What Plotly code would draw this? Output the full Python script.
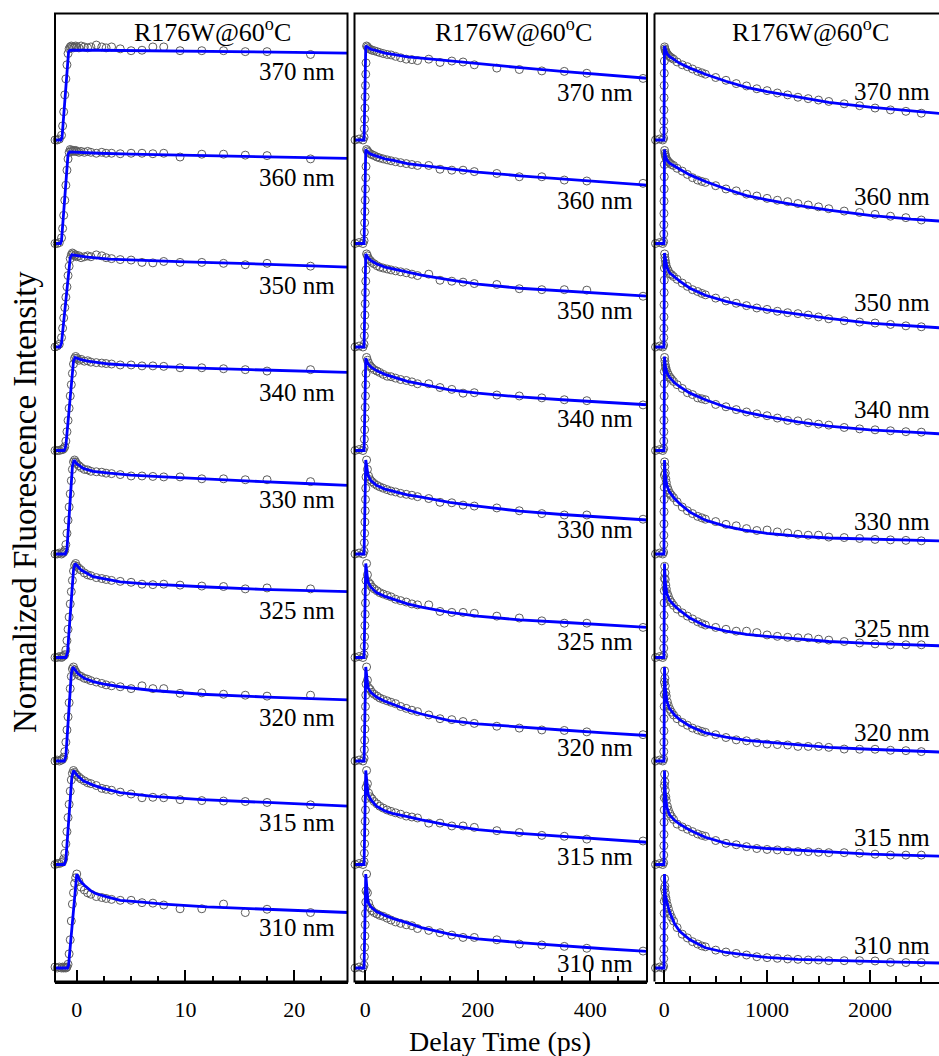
import plotly.graph_objects as go

# ---------------------------------------------------------------- data
WAVELENGTHS = ["370", "360", "350", "340", "330", "325", "320", "315", "310"]
TITLE = "R176W@60<sup>o</sup>C"

# Window 1: -2 .. 25 ps (rows in WAVELENGTHS order)
P1_T = [-2.0, -1.8, -1.6, -1.4, -1.3, -1.2, -1.1, -1.0, -0.9, -0.8, -0.7, -0.6, -0.5,
        -0.4, -0.3, -0.2, -0.1, 0.0, 0.2, 0.4, 0.7, 1.0, 1.3, 1.8, 2.3, 2.7, 3.2, 4.0,
        5.0, 6.0, 7.0, 8.0, 9.5, 11.5, 13.5, 15.5, 17.5, 21.5]
P1_Y = [
    [0.0, 0.0, 0.01, 0.05, 0.15, 0.30, 0.48, 0.65, 0.80, 0.92, 0.97, 0.99, 1.00, 0.99, 0.98, 0.99, 1.00,
     0.99, 0.98, 1.00, 0.99, 0.98, 0.99, 1.01, 0.99, 0.98, 0.99, 0.97, 0.95, 0.955, 0.99, 0.99,
     0.95, 0.95, 0.95, 0.94, 0.94, 0.91],
    [0.0, 0.0, 0.01, 0.06, 0.16, 0.30, 0.46, 0.62, 0.78, 0.90, 0.97, 1.00, 0.99, 0.98, 0.99, 0.98, 0.99,
     0.98, 0.97, 0.98, 0.97, 0.98, 0.97, 0.96, 0.97, 0.96, 0.96, 0.955, 0.96, 0.96, 0.955, 0.96,
     0.92, 0.95, 0.95, 0.94, 0.935, 0.90],
    [0.0, 0.01, 0.03, 0.10, 0.20, 0.31, 0.42, 0.53, 0.64, 0.76, 0.86, 0.94, 0.98, 1.00, 0.99, 0.97, 0.98,
     0.96, 0.97, 0.95, 0.96, 0.97, 0.96, 0.98, 0.97, 0.95, 0.94, 0.93, 0.925, 0.90, 0.895, 0.91,
     0.90, 0.90, 0.89, 0.875, 0.89, 0.86],
    [0.0, 0.0, 0.0, 0.01, 0.01, 0.02, 0.04, 0.10, 0.20, 0.32, 0.45, 0.58, 0.70, 0.82, 0.92, 0.98, 1.00,
     0.98, 0.96, 0.97, 0.95, 0.955, 0.94, 0.935, 0.93, 0.925, 0.92, 0.91, 0.91, 0.90, 0.90, 0.895,
     0.88, 0.88, 0.87, 0.86, 0.845, 0.86],
    [0.0, 0.0, 0.01, 0.0, 0.01, 0.02, 0.04, 0.10, 0.22, 0.36, 0.50, 0.64, 0.78, 0.90, 0.98, 1.00, 0.98,
     0.96, 0.94, 0.92, 0.90, 0.895, 0.88, 0.875, 0.87, 0.86, 0.855, 0.845, 0.83, 0.83, 0.825, 0.82,
     0.82, 0.80, 0.80, 0.79, 0.79, 0.77],
    [0.0, 0.0, 0.01, 0.0, 0.01, 0.02, 0.03, 0.08, 0.18, 0.30, 0.43, 0.57, 0.70, 0.82, 0.92, 0.98, 1.00,
     0.97, 0.95, 0.93, 0.90, 0.88, 0.87, 0.85, 0.84, 0.83, 0.82, 0.81, 0.80, 0.78, 0.775, 0.78,
     0.77, 0.76, 0.755, 0.73, 0.74, 0.73],
    [0.0, 0.01, 0.0, 0.01, 0.02, 0.04, 0.10, 0.20, 0.33, 0.47, 0.62, 0.77, 0.90, 0.98, 1.00, 0.97, 0.95,
     0.93, 0.91, 0.90, 0.88, 0.87, 0.855, 0.84, 0.825, 0.81, 0.80, 0.79, 0.77, 0.80, 0.77, 0.77,
     0.72, 0.725, 0.71, 0.70, 0.69, 0.70],
    [0.0, 0.01, 0.01, 0.02, 0.03, 0.06, 0.12, 0.22, 0.35, 0.50, 0.64, 0.78, 0.90, 0.97, 1.00, 0.98, 0.96,
     0.95, 0.93, 0.91, 0.89, 0.87, 0.86, 0.84, 0.81, 0.80, 0.79, 0.77, 0.75, 0.71, 0.715, 0.71,
     0.69, 0.68, 0.675, 0.67, 0.66, 0.635],
    [0.01, 0.0, 0.01, 0.0, 0.01, 0.0, 0.01, 0.0, 0.01, 0.04, 0.15, 0.30, 0.50, 0.68, 0.80, 0.90, 0.96,
     1.00, 0.92, 0.86, 0.83, 0.80, 0.785, 0.76, 0.75, 0.74, 0.73, 0.72, 0.72, 0.695, 0.69, 0.67,
     0.63, 0.63, 0.68, 0.59, 0.625, 0.59],
]
P1_FIT_T = [
    [-2.0, -1.45, -1.35, -0.75, -0.6, 0.0, 2, 5, 10, 15, 20, 25],
    [-2.0, -1.5, -1.4, -0.8, -0.65, 0.0, 2, 5, 10, 15, 20, 25],
    [-2.0, -1.55, -1.4, -0.6, -0.45, 0.0, 1.0, 3.0, 6.0, 10, 15, 20, 25],
    [-2.0, -1.15, -1.0, -0.3, -0.15, 0.3, 1.0, 2.0, 3.0, 5.0, 8.0, 12, 16, 20, 25],
    [-2.0, -1.05, -0.9, -0.4, -0.25, 0.0, 0.6, 1.5, 3.0, 5.0, 8.0, 12, 17, 21, 25],
    [-2.0, -1.0, -0.85, -0.3, -0.15, 0.4, 1.5, 2.8, 4.0, 6.0, 9.0, 12, 17, 21, 25],
    [-2.0, -1.15, -1.0, -0.5, -0.35, 0.1, 0.7, 1.5, 2.4, 4.0, 7.0, 11.5, 17.5, 21, 25],
    [-2.0, -1.15, -1.0, -0.45, -0.3, 0.1, 0.6, 1.5, 2.4, 4.0, 7.0, 11.5, 17.5, 21, 25],
    [-2.0, -0.85, -0.75, -0.1, 0.0, 0.3, 0.7, 1.3, 1.8, 2.7, 4.0, 6.0, 8.0, 12, 17, 21.5, 25],
]
P1_FIT_Y = [
    [0, 0, 0.03, 0.94, 0.955, 0.957, 0.955, 0.95, 0.945, 0.94, 0.932, 0.925],
    [0, 0, 0.03, 0.95, 0.975, 0.97, 0.96, 0.95, 0.94, 0.93, 0.915, 0.905],
    [0, 0, 0.04, 0.95, 0.98, 0.97, 0.955, 0.935, 0.92, 0.905, 0.89, 0.87, 0.85],
    [0, 0, 0.05, 0.95, 0.99, 0.97, 0.95, 0.935, 0.92, 0.905, 0.89, 0.873, 0.86, 0.845, 0.83],
    [0, 0, 0.05, 0.93, 1.0, 0.96, 0.91, 0.88, 0.86, 0.84, 0.82, 0.795, 0.77, 0.75, 0.73],
    [0, 0, 0.05, 0.93, 1.0, 0.93, 0.86, 0.83, 0.805, 0.785, 0.765, 0.75, 0.725, 0.71, 0.70],
    [0, 0, 0.05, 0.93, 1.0, 0.93, 0.88, 0.845, 0.82, 0.79, 0.75, 0.71, 0.68, 0.665, 0.65],
    [0, 0, 0.05, 0.93, 1.0, 0.94, 0.89, 0.845, 0.81, 0.765, 0.725, 0.69, 0.66, 0.64, 0.62],
    [0, 0, 0.03, 0.93, 1.0, 0.93, 0.88, 0.82, 0.79, 0.76, 0.72, 0.70, 0.68, 0.65, 0.625, 0.61, 0.59],
]

# Window 2: -20 .. 500 ps (rising edge is common to all rows)
P2_RISE_T = [-18, -11, -4, -2, -1.5, -1, -0.5, 0, 0.5, 1, 1.5]
P2_RISE_Y = [0.0, 0.01, 0.0, 0.03, 0.12, 0.22, 0.34, 0.46, 0.58, 0.70, 0.82]
P2_DECAY_T = [2.5, 4, 6, 9, 12, 16, 21, 26, 32, 39, 46, 54, 63, 73, 83, 93, 113, 133, 154,
              174, 194, 234, 274, 314, 354, 394, 494]
P2_DECAY_Y = [
    [1.0, 0.99, 0.975, 0.965, 0.955, 0.95, 0.94, 0.93, 0.92, 0.91, 0.905, 0.89, 0.875, 0.86,
     0.855, 0.845, 0.86, 0.825, 0.84, 0.83, 0.80, 0.765, 0.75, 0.735, 0.73, 0.71, 0.655],
    [1.0, 0.985, 0.97, 0.955, 0.945, 0.935, 0.92, 0.91, 0.90, 0.89, 0.88, 0.87, 0.86, 0.85,
     0.84, 0.83, 0.83, 0.79, 0.78, 0.78, 0.765, 0.745, 0.71, 0.71, 0.675, 0.665, 0.64],
    [0.99, 0.97, 0.94, 0.92, 0.90, 0.885, 0.865, 0.85, 0.84, 0.83, 0.82, 0.81, 0.80, 0.79,
     0.775, 0.76, 0.775, 0.71, 0.70, 0.69, 0.675, 0.665, 0.62, 0.61, 0.61, 0.605, 0.54],
    [0.99, 0.96, 0.93, 0.90, 0.88, 0.86, 0.845, 0.83, 0.81, 0.79, 0.785, 0.77, 0.755, 0.745,
     0.73, 0.71, 0.71, 0.67, 0.65, 0.61, 0.615, 0.59, 0.58, 0.56, 0.54, 0.53, 0.485],
    [1.0, 0.90, 0.83, 0.79, 0.77, 0.75, 0.73, 0.715, 0.70, 0.685, 0.67, 0.66, 0.645, 0.635,
     0.625, 0.61, 0.59, 0.55, 0.545, 0.52, 0.51, 0.49, 0.46, 0.43, 0.415, 0.415, 0.37],
    [1.0, 0.88, 0.80, 0.78, 0.75, 0.73, 0.71, 0.69, 0.675, 0.66, 0.645, 0.62, 0.605, 0.59,
     0.57, 0.56, 0.56, 0.49, 0.48, 0.48, 0.47, 0.44, 0.42, 0.39, 0.365, 0.365, 0.32],
    [1.0, 0.86, 0.78, 0.76, 0.73, 0.71, 0.69, 0.67, 0.655, 0.64, 0.625, 0.61, 0.58, 0.56,
     0.54, 0.525, 0.49, 0.45, 0.44, 0.42, 0.40, 0.37, 0.35, 0.33, 0.325, 0.31, 0.28],
    [1.0, 0.86, 0.76, 0.72, 0.70, 0.67, 0.645, 0.62, 0.60, 0.58, 0.565, 0.55, 0.535, 0.515,
     0.505, 0.495, 0.44, 0.44, 0.41, 0.41, 0.395, 0.36, 0.34, 0.31, 0.30, 0.27, 0.25],
    [1.0, 0.80, 0.69, 0.64, 0.61, 0.59, 0.575, 0.56, 0.55, 0.53, 0.51, 0.49, 0.475, 0.46,
     0.45, 0.42, 0.40, 0.375, 0.35, 0.325, 0.325, 0.30, 0.255, 0.245, 0.23, 0.21, 0.18],
]
P2_FIT_T = [-20, -2, 1, 5, 10, 20, 35, 50, 75, 100, 150, 200, 275, 350, 425, 505]
P2_FIT_Y = [
    [0, 0, 1.0, 0.98, 0.965, 0.95, 0.925, 0.91, 0.885, 0.87, 0.84, 0.813, 0.77, 0.73, 0.69, 0.655],
    [0, 0, 1.0, 0.97, 0.95, 0.93, 0.90, 0.885, 0.85, 0.83, 0.795, 0.76, 0.72, 0.685, 0.65, 0.62],
    [0, 0, 0.99, 0.95, 0.92, 0.885, 0.85, 0.83, 0.80, 0.765, 0.715, 0.67, 0.625, 0.595, 0.57, 0.54],
    [0, 0, 0.98, 0.92, 0.89, 0.85, 0.81, 0.78, 0.735, 0.705, 0.645, 0.61, 0.57, 0.54, 0.51, 0.485],
    [0, 0, 1.0, 0.84, 0.78, 0.73, 0.69, 0.665, 0.63, 0.605, 0.55, 0.51, 0.455, 0.42, 0.39, 0.36],
    [0, 0, 1.0, 0.80, 0.75, 0.69, 0.65, 0.62, 0.57, 0.535, 0.48, 0.44, 0.40, 0.375, 0.35, 0.32],
    [0, 0, 1.0, 0.78, 0.73, 0.68, 0.635, 0.60, 0.545, 0.50, 0.43, 0.395, 0.36, 0.33, 0.30, 0.27],
    [0, 0, 1.0, 0.75, 0.69, 0.62, 0.57, 0.54, 0.51, 0.475, 0.415, 0.37, 0.33, 0.30, 0.27, 0.235],
    [0, 0, 1.0, 0.70, 0.65, 0.60, 0.56, 0.525, 0.48, 0.43, 0.36, 0.31, 0.27, 0.235, 0.205, 0.175],
]

# Window 3: -100 .. 2700 ps
P3_RISE_T = [-85, -45, -15, -6, -5, -4, -3, -2, -1, 0, 1]
P3_RISE_Y = [0.0, 0.01, 0.0, 0.02, 0.10, 0.20, 0.32, 0.45, 0.58, 0.71, 0.84]
P3_DECAY_T = [3, 6, 10, 15, 20, 30, 40, 55, 70, 90, 125, 175, 225, 275, 325, 365, 400, 500, 600,
              700, 800, 900, 1000, 1100, 1200, 1300, 1400, 1500, 1600, 1750, 1900, 2050, 2200,
              2350, 2500]
P3_DECAY_Y = [
    [0.99, 0.97, 0.955, 0.94, 0.93, 0.915, 0.90, 0.885, 0.875, 0.86, 0.83, 0.80, 0.78, 0.755,
     0.73, 0.715, 0.70, 0.665, 0.635, 0.60, 0.575, 0.545, 0.525, 0.50, 0.48, 0.455, 0.44, 0.425,
     0.41, 0.385, 0.365, 0.34, 0.32, 0.305, 0.285],
    [0.99, 0.96, 0.94, 0.92, 0.90, 0.885, 0.87, 0.855, 0.84, 0.83, 0.80, 0.77, 0.735, 0.70,
     0.675, 0.66, 0.65, 0.615, 0.58, 0.56, 0.525, 0.505, 0.48, 0.46, 0.445, 0.425, 0.41, 0.39,
     0.37, 0.345, 0.33, 0.31, 0.29, 0.275, 0.25],
    [0.99, 0.95, 0.92, 0.89, 0.86, 0.83, 0.81, 0.78, 0.77, 0.75, 0.72, 0.68, 0.645, 0.61,
     0.59, 0.57, 0.555, 0.52, 0.49, 0.465, 0.44, 0.415, 0.40, 0.38, 0.365, 0.355, 0.34, 0.32,
     0.30, 0.28, 0.265, 0.255, 0.24, 0.225, 0.215],
    [0.99, 0.95, 0.91, 0.88, 0.86, 0.83, 0.805, 0.78, 0.76, 0.735, 0.70, 0.66, 0.615, 0.595,
     0.56, 0.55, 0.54, 0.49, 0.465, 0.435, 0.41, 0.39, 0.37, 0.345, 0.32, 0.315, 0.295, 0.28,
     0.27, 0.245, 0.23, 0.22, 0.21, 0.20, 0.195],
    [0.98, 0.93, 0.86, 0.80, 0.76, 0.71, 0.68, 0.645, 0.625, 0.60, 0.555, 0.50, 0.46, 0.43,
     0.40, 0.385, 0.37, 0.345, 0.315, 0.30, 0.27, 0.25, 0.255, 0.235, 0.225, 0.21, 0.20, 0.20,
     0.18, 0.175, 0.165, 0.155, 0.15, 0.145, 0.14],
    [0.97, 0.90, 0.83, 0.77, 0.73, 0.68, 0.65, 0.61, 0.585, 0.555, 0.515, 0.475, 0.44, 0.41,
     0.38, 0.36, 0.345, 0.32, 0.30, 0.28, 0.28, 0.265, 0.24, 0.225, 0.215, 0.21, 0.21, 0.195,
     0.185, 0.17, 0.155, 0.145, 0.135, 0.135, 0.135],
    [0.96, 0.88, 0.80, 0.73, 0.69, 0.63, 0.59, 0.55, 0.52, 0.49, 0.45, 0.41, 0.38, 0.35,
     0.33, 0.315, 0.305, 0.28, 0.25, 0.225, 0.215, 0.195, 0.18, 0.175, 0.17, 0.155, 0.155, 0.155,
     0.145, 0.127, 0.125, 0.125, 0.114, 0.11, 0.10],
    [0.96, 0.88, 0.79, 0.72, 0.68, 0.62, 0.58, 0.54, 0.51, 0.48, 0.43, 0.40, 0.375, 0.35,
     0.325, 0.31, 0.30, 0.255, 0.225, 0.21, 0.19, 0.17, 0.16, 0.155, 0.147, 0.137, 0.137, 0.13,
     0.126, 0.126, 0.12, 0.11, 0.10, 0.10, 0.10],
    [0.95, 0.87, 0.80, 0.75, 0.72, 0.67, 0.63, 0.58, 0.54, 0.50, 0.43, 0.36, 0.32, 0.28,
     0.255, 0.235, 0.225, 0.19, 0.17, 0.155, 0.138, 0.12, 0.11, 0.103, 0.096, 0.092, 0.085, 0.085,
     0.078, 0.078, 0.078, 0.075, 0.06, 0.058, 0.058],
]
P3_FIT_T = [-100, -3, 2, 10, 25, 50, 100, 150, 250, 400, 600, 800, 1000, 1300, 1600, 2000, 2400, 2800]
P3_FIT_Y = [
    [0, 0, 1.0, 0.96, 0.92, 0.89, 0.85, 0.815, 0.765, 0.70, 0.625, 0.56, 0.515, 0.455, 0.40, 0.35, 0.305, 0.27],
    [0, 0, 1.0, 0.94, 0.89, 0.855, 0.825, 0.79, 0.73, 0.66, 0.58, 0.51, 0.465, 0.405, 0.355, 0.30, 0.26, 0.23],
    [0, 0, 1.0, 0.93, 0.85, 0.79, 0.74, 0.70, 0.625, 0.55, 0.485, 0.435, 0.395, 0.35, 0.305, 0.255, 0.225, 0.195],
    [0, 0, 1.0, 0.90, 0.83, 0.78, 0.72, 0.68, 0.61, 0.54, 0.46, 0.405, 0.36, 0.305, 0.26, 0.22, 0.195, 0.17],
    [0, 0, 1.0, 0.84, 0.73, 0.66, 0.59, 0.535, 0.445, 0.36, 0.295, 0.25, 0.22, 0.19, 0.17, 0.155, 0.145, 0.135],
    [0, 0, 1.0, 0.80, 0.68, 0.61, 0.55, 0.50, 0.42, 0.335, 0.28, 0.245, 0.225, 0.195, 0.17, 0.15, 0.135, 0.12],
    [0, 0, 1.0, 0.78, 0.64, 0.56, 0.49, 0.44, 0.37, 0.30, 0.255, 0.22, 0.20, 0.17, 0.145, 0.125, 0.105, 0.09],
    [0, 0, 1.0, 0.76, 0.61, 0.53, 0.47, 0.43, 0.365, 0.29, 0.225, 0.19, 0.17, 0.15, 0.13, 0.11, 0.097, 0.085],
    [0, 0, 1.0, 0.78, 0.70, 0.60, 0.47, 0.39, 0.30, 0.215, 0.165, 0.135, 0.112, 0.092, 0.08, 0.07, 0.06, 0.05],
]

MAJOR_TICKS = [[0, 10, 20], [0, 200, 400], [0, 1000, 2000]]
MINOR_TICKS = [[2.5, 5, 7.5, 12.5, 15, 17.5, 22.5],
               [50, 100, 150, 250, 300, 350, 450],
               [250, 500, 750, 1250, 1500, 1750, 2250, 2500]]

# ---------------------------------------------------------------- layout geometry (pixels)
W, H = 939, 1056
FONT = "Liberation Serif"
PANEL_X = [(55, 347.5), (354.5, 647), (654.5, 939)]
X_RANGES = [(-2.0, 24.9), (-19, 501), (-95, 2672)]
TOP, BOTTOM = 13.5, 981.5
BASE0, STEP, UNIT = 140, 103.5, 94          # row baseline, row pitch, px per unit intensity
LABEL_RIGHT = [337, 635, 932]
LABEL_Y = [[72, 177, 285, 392, 499, 610, 717, 822, 927],
           [92, 201, 311, 419, 529, 641, 747, 856, 963],
           [91, 197, 303, 410, 521, 628, 732, 837, 945]]
TITLE_X = [212, 513, 810]


def fx(p):
    return p / W


def fy(p):
    return 1 - p / H


panels = [
    [(P1_T, P1_Y[k], P1_FIT_T[k], P1_FIT_Y[k]) for k in range(9)],
    [(P2_RISE_T + P2_DECAY_T, P2_RISE_Y + P2_DECAY_Y[k], P2_FIT_T, P2_FIT_Y[k]) for k in range(9)],
    [(P3_RISE_T + P3_DECAY_T, P3_RISE_Y + P3_DECAY_Y[k], P3_FIT_T, P3_FIT_Y[k]) for k in range(9)],
]

fig = go.Figure()
layout = {}
axis_font = dict(family=FONT, size=22, color="black")

for c in range(3):
    xname = "x" if c == 0 else f"x{c + 1}"
    xkey = "xaxis" if c == 0 else f"xaxis{c + 1}"
    bottom_j = c * 9 + 9
    layout[xkey] = dict(
        domain=[fx(PANEL_X[c][0]), fx(PANEL_X[c][1])],
        range=list(X_RANGES[c]),
        anchor=f"y{bottom_j}",
        showline=True, linecolor="black", linewidth=2,
        ticks="inside", ticklen=12, tickwidth=2, tickcolor="black",
        tickmode="array", tickvals=MAJOR_TICKS[c],
        ticktext=[str(v) for v in MAJOR_TICKS[c]],
        tickfont=axis_font, ticklabelstandoff=7,
        minor=dict(ticks="inside", ticklen=6, tickwidth=2, tickcolor="black",
                   tickmode="array", tickvals=MINOR_TICKS[c], showgrid=False),
        showgrid=False, zeroline=False, automargin=False, fixedrange=True,
    )
    for k in range(9):
        j = c * 9 + k + 1
        yname = "y" if j == 1 else f"y{j}"
        ykey = "yaxis" if j == 1 else f"yaxis{j}"
        base = BASE0 + STEP * k
        top = TOP if k == 0 else base - (STEP - 6.5)
        bot = BOTTOM if k == 8 else base + 6.5
        layout[ykey] = dict(
            domain=[fy(bot), fy(top)],
            range=[-(bot - base) / UNIT, (base - top) / UNIT],
            anchor=xname, visible=False, fixedrange=True,
            showgrid=False, zeroline=False,
        )
        t, y, ft, fyv = panels[c][k]
        fig.add_trace(go.Scatter(
            x=t, y=y, mode="markers", xaxis=xname, yaxis=yname,
            marker=dict(symbol="circle-open", size=8, color="#5c5c5c", line=dict(width=1)),
            cliponaxis=False, hoverinfo="skip", showlegend=False,
        ))
        fig.add_trace(go.Scatter(
            x=ft, y=fyv, mode="lines", xaxis=xname, yaxis=yname,
            line=dict(color="#0000ff", width=2.8),
            hoverinfo="skip", showlegend=False,
        ))

annotations = []
for c in range(3):
    for k, wl in enumerate(WAVELENGTHS):
        annotations.append(dict(
            x=fx(LABEL_RIGHT[c]), y=fy(LABEL_Y[c][k]), xref="paper", yref="paper",
            text=f"{wl} nm", showarrow=False, xanchor="right", yanchor="middle",
            font=dict(family=FONT, size=25, color="black"),
        ))
    annotations.append(dict(
        x=fx(TITLE_X[c]), y=fy(30), xref="paper", yref="paper", text=TITLE,
        showarrow=False, xanchor="center", yanchor="middle",
        font=dict(family=FONT, size=26, color="black"),
    ))
annotations.append(dict(
    x=fx(500), y=fy(1041), xref="paper", yref="paper", text="Delay Time (ps)",
    showarrow=False, xanchor="center", yanchor="middle",
    font=dict(family=FONT, size=28, color="black"),
))
annotations.append(dict(
    x=fx(25), y=fy(502), xref="paper", yref="paper", text="Normalized Fluorescence Intensity",
    showarrow=False, xanchor="center", yanchor="middle", textangle=-90,
    font=dict(family=FONT, size=33, color="black"),
))

border = dict(color="black", width=2)
shapes = []
for c in range(2):
    x0, x1 = PANEL_X[c]
    shapes.append(dict(type="rect", xref="paper", yref="paper", x0=fx(x0), x1=fx(x1),
                       y0=fy(BOTTOM), y1=fy(TOP), line=border, fillcolor="rgba(0,0,0,0)"))
x0 = PANEL_X[2][0]
shapes.append(dict(type="line", xref="paper", yref="paper", x0=fx(x0), x1=fx(x0),
                   y0=fy(BOTTOM), y1=fy(TOP), line=border))
shapes.append(dict(type="line", xref="paper", yref="paper", x0=fx(x0), x1=1.01,
                   y0=fy(TOP), y1=fy(TOP), line=border))

fig.update_layout(
    width=W, height=H, autosize=False,
    margin=dict(l=0, r=0, t=0, b=0, pad=0),
    paper_bgcolor="white", plot_bgcolor="white",
    font=dict(family=FONT, color="black"),
    showlegend=False, annotations=annotations, shapes=shapes,
    **layout,
)

fig.write_html("out.html")
